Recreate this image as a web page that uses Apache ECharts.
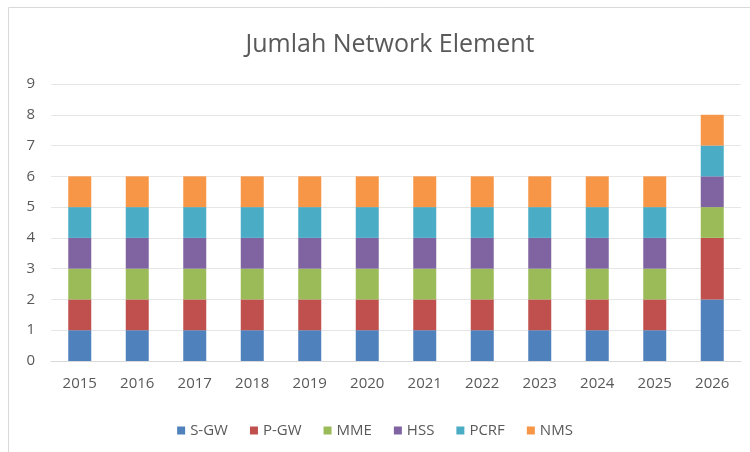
<!DOCTYPE html>
<html><head><meta charset="utf-8">
<script src="https://cdn.jsdelivr.net/npm/echarts@6/dist/echarts.min.js"></script>
<style>html,body{margin:0;padding:0;background:#fff}#c{width:750px;height:452px}</style>
</head><body><div id="c"></div>
<script>
const categories = ['2015','2016','2017','2018','2019','2020','2021','2022','2023','2024','2025','2026'];
const sgw  = [1,1,1,1,1,1,1,1,1,1,1,2];
const pgw  = [1,1,1,1,1,1,1,1,1,1,1,2];
const mme  = [1,1,1,1,1,1,1,1,1,1,1,1];
const hss  = [1,1,1,1,1,1,1,1,1,1,1,1];
const pcrf = [1,1,1,1,1,1,1,1,1,1,1,1];
const nms  = [1,1,1,1,1,1,1,1,1,1,1,1];
const seriesNames = ['S-GW','P-GW','MME','HSS','PCRF','NMS'];
const seriesData = [sgw,pgw,mme,hss,pcrf,nms];
const colors = ['#4F81BD','#C0504D','#9BBB59','#8064A2','#4BACC6','#F79646'];
const font = "'Open Sans', 'Noto Sans', sans-serif";
const chart = echarts.init(document.getElementById('c'));
chart.setOption({
  animation:false,
  color: colors,
  title:{text:'Jumlah Network Element', left:385, top:27, textAlign:'center',
    textStyle:{fontFamily:font, fontSize:25, fontWeight:'normal', color:'#595959'}},
  graphic:[{type:'rect', shape:{x:8.5,y:7.5,width:760,height:460}, style:{fill:'none', stroke:'#d9d9d9', lineWidth:1}, silent:true}],
  legend:{bottom:9, left:'center', itemWidth:8, itemHeight:8, itemGap:22, icon:'rect',
    textStyle:{fontFamily:font, fontSize:15, color:'#595959'}},
  grid:{left:51, right:9, top:84, bottom:91},
  xAxis:{type:'category', data:categories,
    axisLine:{lineStyle:{color:'#d9d9d9'}}, axisTick:{show:false},
    axisLabel:{fontFamily:font, fontSize:15, color:'#595959', margin:15}},
  yAxis:{type:'value', min:0, max:9, interval:1,
    axisLine:{show:false}, axisTick:{show:false},
    splitLine:{lineStyle:{color:'#e6e6e6'}},
    axisLabel:{fontFamily:font, fontSize:15, color:'#595959', margin:16}},
  series: seriesNames.map((n,i)=>({name:n, type:'bar', stack:'total', data:seriesData[i], barWidth:'40%'}))
});
</script></body></html>
